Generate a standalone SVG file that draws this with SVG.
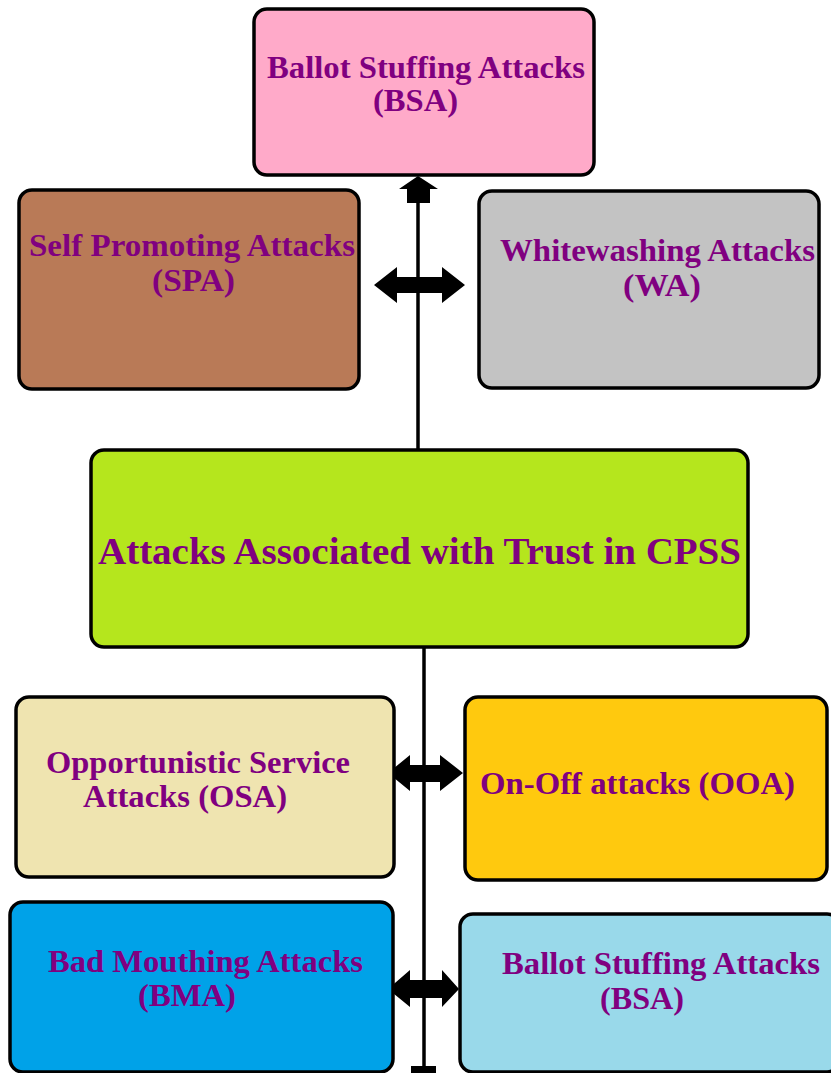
<svg xmlns="http://www.w3.org/2000/svg" width="831" height="1073" viewBox="0 0 831 1073">
<style>
.box{stroke:#000;stroke-width:3.5;}
.t{font-family:"Liberation Serif","Times New Roman",serif;font-weight:bold;fill:#800080;font-size:32px;}
.big{font-size:38px;}
.line{stroke:#000;stroke-width:3.5;fill:none;}
.arr{fill:#000;}
</style>
<rect width="831" height="1073" fill="#fff"/>
<g id="connectors">
<line class="line" x1="418" y1="200" x2="418" y2="450"/>
<line class="line" x1="424" y1="646" x2="424" y2="1068"/>
<rect class="arr" x="411" y="1066" width="25" height="8"/>
<polygon class="arr" points="418,176 438,189 430,189 430,203 407,203 407,189 399,189"/>
<polygon class="arr" points="374,285 397,267 397,277 442,277 442,267 465,285 442,303 442,293 397,293 397,303"/>
<polygon class="arr" points="388,773 410,755 410,765 440,765 440,755 463,773 440,791 440,782 410,782 410,791"/>
<polygon class="arr" points="388,989 410,970 410,980 442,980 442,970 459,989 442,1007 442,998 410,998 410,1007"/>
</g>
<g id="bsa-top">
<rect class="box" x="254" y="9" width="340" height="166" rx="13" fill="#FFAAC9"/>
<text class="t" x="267" y="78" textLength="318" lengthAdjust="spacingAndGlyphs">Ballot Stuffing Attacks</text>
<text class="t" x="373" y="111" textLength="85" lengthAdjust="spacingAndGlyphs">(BSA)</text>
</g>
<g id="spa">
<rect class="box" x="19" y="190" width="340" height="199" rx="13" fill="#B97A57"/>
<text class="t" x="29" y="256" textLength="326" lengthAdjust="spacingAndGlyphs">Self Promoting Attacks</text>
<text class="t" x="152" y="291" textLength="83" lengthAdjust="spacingAndGlyphs">(SPA)</text>
</g>
<g id="wa">
<rect class="box" x="479" y="191" width="340" height="197" rx="13" fill="#C3C3C3"/>
<text class="t" x="500" y="261" textLength="315" lengthAdjust="spacingAndGlyphs">Whitewashing Attacks</text>
<text class="t" x="623" y="296" textLength="78" lengthAdjust="spacingAndGlyphs">(WA)</text>
</g>
<g id="center">
<rect class="box" x="91" y="450" width="657" height="197" rx="13" fill="#B5E61D"/>
<text class="t big" x="98" y="564" textLength="643" lengthAdjust="spacingAndGlyphs">Attacks Associated with Trust in CPSS</text>
</g>
<g id="osa">
<rect class="box" x="16" y="697" width="378" height="180" rx="13" fill="#EFE4B0"/>
<text class="t" x="46" y="773" textLength="304" lengthAdjust="spacingAndGlyphs">Opportunistic Service</text>
<text class="t" x="83" y="807" textLength="204" lengthAdjust="spacingAndGlyphs">Attacks (OSA)</text>
</g>
<g id="ooa">
<rect class="box" x="465" y="697" width="362" height="183" rx="13" fill="#FFC90E"/>
<text class="t" x="480" y="794" textLength="315" lengthAdjust="spacingAndGlyphs">On-Off attacks (OOA)</text>
</g>
<g id="bma">
<rect class="box" x="10" y="902" width="383" height="170" rx="13" fill="#00A2E8"/>
<text class="t" x="48" y="972" textLength="315" lengthAdjust="spacingAndGlyphs">Bad Mouthing Attacks</text>
<text class="t" x="138" y="1006" textLength="98" lengthAdjust="spacingAndGlyphs">(BMA)</text>
</g>
<g id="bsa-bottom">
<rect class="box" x="460" y="914" width="380" height="158" rx="13" fill="#99D9EA"/>
<text class="t" x="502" y="974" textLength="318" lengthAdjust="spacingAndGlyphs">Ballot Stuffing Attacks</text>
<text class="t" x="600" y="1009" textLength="84" lengthAdjust="spacingAndGlyphs">(BSA)</text>
</g>
</svg>
